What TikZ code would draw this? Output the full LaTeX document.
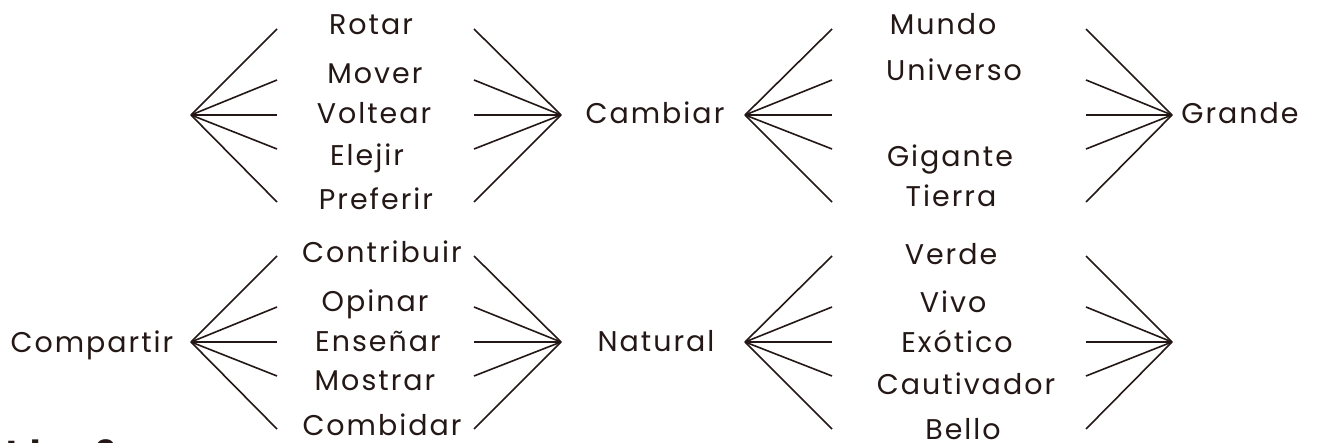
\documentclass[tikz,border=0pt]{standalone}
\usepackage{fontspec}
\setmainfont{Poppins}
\newfontfamily\spacedfont[LetterSpace=7]{Poppins}
\definecolor{ink}{RGB}{35,24,21}
\newcommand\wordfont{\spacedfont\fontsize{28.5}{32}\selectfont}
% fan of five spokes: name, apex x, free-end x, apex y
\newcommand\fan[4]{%
  \coordinate (#1-a) at (#2,#4);
  \foreach \k/\dy in {1/-86,2/-35,3/0,4/34,5/87}{
    \coordinate (#1-\k) at (#3,#4+\dy);
    \draw[spoke] (#1-a) -- (#1-\k);
  }%
}
\tikzset{
  word/.style={font=\wordfont, text=ink, inner sep=0pt, anchor=base},
  spoke/.style={draw=ink, line width=1.6pt},
}
\begin{document}
\begin{tikzpicture}[x=1pt,y=-1pt]
\clip (0,0) rectangle (1317,443);
\fill[white] (0,0) rectangle (1317,443);

% ---- upper row ----
\fan{ta}{191}{277}{115}
\fan{tb}{561}{474}{115}
\fan{tc}{745}{832}{115}
\fan{td}{1172}{1086}{115}

\node[word] (rotar)    at (371,35)  {Rotar};
\node[word] (mover)    at (375,84)  {Mover};
\node[word] (voltear)  at (374,124) {Voltear};
\node[word] (elejir)   at (367,166) {Elejir};
\node[word] (preferir) at (376,210) {Preferir};

\node[word] (cambiar)  at (655,124) {Cambiar};

\node[word] (mundo)    at (943,35)  {Mundo};
\node[word] (universo) at (954,81)  {Universo};
\node[word] (gigante)  at (950,167) {Gigante};
\node[word] (tierra)   at (951,207) {Tierra};

\node[word] (grande)   at (1240,124) {Grande};

% ---- lower row ----
\fan{ba}{191}{277}{342}
\fan{bb}{561}{474}{342}
\fan{bc}{745}{832}{342}
\fan{bd}{1172}{1086}{342}

\node[word] (compartir) at (92,353) {Compartir};

\node[word] (contribuir) at (382,263) {Contribuir};
\node[word] (opinar)     at (375,312) {Opinar};
\node[word] (ensenar)    at (378,352) {Enseñar};
\node[word] (mostrar)    at (375,391) {Mostrar};
\node[word] (combidar)   at (382,435) {Combidar};

\node[word] (natural)    at (656,352) {Natural};

\node[word] (verde)      at (951,265) {Verde};
\node[word] (vivo)       at (953,313) {Vivo};
\node[word] (exotico)    at (957,353) {Exótico};
\node[word] (cautivador) at (966,395) {Cautivador};
\node[word] (bello)      at (963,439) {Bello};

% heading running off the lower edge
\node[font=\bfseries\fontsize{36}{40}\selectfont, text=ink, inner sep=0pt, anchor=base west] (idea) at (6,466) {Idea 2};
\end{tikzpicture}
\end{document}
